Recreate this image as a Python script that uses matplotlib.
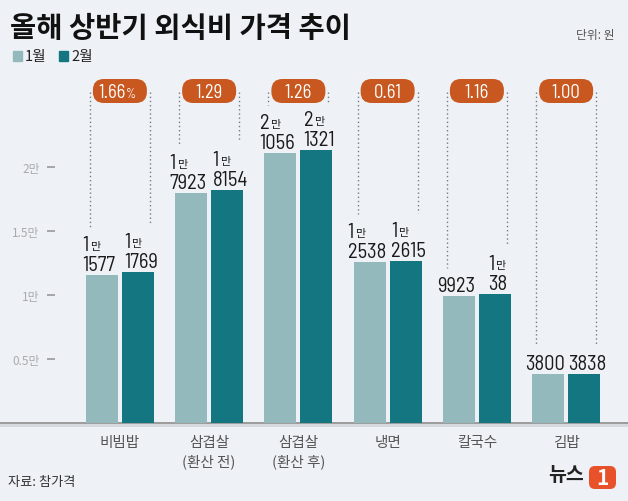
import numpy as np
import matplotlib.pyplot as plt
from matplotlib import font_manager as fm
from matplotlib.patches import FancyBboxPatch, Rectangle

plt.rcParams['font.family'] = ['Noto Sans CJK KR', 'DejaVu Sans']

categories = ['비빔밥', '삼겹살\n(환산 전)', '삼겹살\n(환산 후)', '냉면', '칼국수', '김밥']
jan = [11577, 17923, 21056, 12538, 9923, 3800]
feb = [11769, 18154, 21321, 12615, 10038, 3838]
change = ['1.66', '1.29', '1.26', '0.61', '1.16', '1.00']
yticks = [5000, 10000, 15000, 20000]
ytick_labels = ['0.5만', '1만', '1.5만', '2만']

W, H = 628, 502
BG = '#eef2f7'
LIGHT = '#93b9bc'
DARK = '#137680'
ORANGE = '#c8581f'

# narrow digits if some condensed family is around
have = {f.name for f in fm.fontManager.ttflist}
cond = next((n for n in ['Barlow Semi Condensed', 'Roboto Condensed', 'Asap Condensed',
                         'Barlow Condensed'] if n in have), None)
NUM = [cond, 'Noto Sans CJK KR'] if cond else ['Noto Sans CJK KR']
num_size = 14.8 if cond else 12.5

fig = plt.figure(figsize=(W / 100, H / 100), dpi=100, facecolor=BG)

# overlay in pixel coords (y from top) for decorations
deco = fig.add_axes([0, 0, 1, 1], zorder=0)
deco.set_xlim(0, W)
deco.set_ylim(H, 0)
deco.axis('off')

ax = fig.add_axes([55 / W, (H - 424) / H, (W - 55) / W, 320.6 / H], zorder=1)
ax.set_facecolor('none')
x = np.arange(len(categories))
bw = 0.358
off = 0.201
b1 = ax.bar(x - off, jan, bw, color=LIGHT)
b2 = ax.bar(x + off, feb, bw, color=DARK)
ax.set_xlim(-0.727, 5.693)
ax.set_ylim(0, 25000)
for s in ax.spines.values():
    s.set_visible(False)
ax.set_yticks(yticks, ytick_labels)
ax.tick_params(axis='y', length=6, width=1.2, color='#9a9a9a', labelcolor='#aaaaaa', labelsize=8.5, pad=5)
ax.set_xticks(x, categories)
ax.tick_params(axis='x', length=0, pad=9, labelcolor='#555555', labelsize=10.5)
for lab in ax.get_xticklabels():
    lab.set_linespacing(1.3)

# baseline across the whole width
deco.plot([0, W], [425.5, 425.5], color='#d5d9de', lw=2)
deco.plot([0, W], [423.8, 423.8], color='#9b9b9b', lw=1.4)

fig.canvas.draw()
renderer = fig.canvas.get_renderer()

def px_top(v):
    return H - ax.transData.transform((0, v))[1]

label_tops = {}
for k, (bars, vals) in enumerate(((b1, jan), (b2, feb))):
    shift = -3 if k == 0 else 3
    for i, (rect, v) in enumerate(zip(bars, vals)):
        cx = rect.get_x() + rect.get_width() / 2
        dx = ax.transData.transform((cx, v))[0]
        man, rest = divmod(v, 10000)
        t = ax.annotate(str(rest) if man else str(v), (cx, v), xytext=(shift, 5),
                        textcoords='offset pixels', ha='center', va='baseline',
                        fontsize=num_size, family=NUM, color='#1a1a1a')
        top = px_top(v) - 5 - 15
        if man:
            bb = t.get_window_extent(renderer)
            x0 = bb.x0 - dx
            t1 = ax.annotate(str(man), (cx, v), xytext=(x0, 25), textcoords='offset pixels',
                             ha='left', va='baseline', fontsize=num_size, family=NUM,
                             color='#1a1a1a')
            bb1 = t1.get_window_extent(renderer)
            ax.annotate('만', (cx, v), xytext=(bb1.x1 - dx + 1, 26), textcoords='offset pixels',
                        ha='left', va='baseline', fontsize=8, color='#1a1a1a')
            top -= 20
        label_tops[(i, k)] = top

# change pills with dotted guides
for i, c in enumerate(change):
    cx = ax.transData.transform((i, 0))[0]
    for k, sx in ((0, cx - 30), (1, cx + 30)):
        deco.plot([sx, sx], [93, label_tops[(i, k)] - 8], color='#7a7a7a', lw=1,
                  ls=(0, (1, 2)))
    deco.add_patch(FancyBboxPatch((cx - 27, 80), 54, 24,
                                  boxstyle='round,pad=0,rounding_size=11',
                                  fc=ORANGE, ec='none', zorder=3))
    if i == 0:
        deco.text(cx + 6, 92.5, c, ha='right', va='center', color='white',
                  fontsize=13.5, family=NUM, zorder=4)
        deco.text(cx + 6, 94, '%', ha='left', va='center', color='white',
                  fontsize=9, family=NUM, zorder=4)
    else:
        deco.text(cx, 92.5, c, ha='center', va='center', color='white',
                  fontsize=13.5, family=NUM, zorder=4)

# title, legend, unit
fig.text(10 / W, 1 - 29 / H, '올해 상반기 외식비 가격 추이', fontsize=20.5, fontweight='bold',
         color='#111111', va='center', ha='left')
deco.add_patch(Rectangle((13, 52), 9, 10, color=LIGHT))
deco.text(25, 57.5, '1월', fontsize=10.5, va='center', color='#222222')
deco.add_patch(Rectangle((59, 52), 9, 10, color=DARK))
deco.text(71, 57.5, '2월', fontsize=10.5, va='center', color='#222222')
deco.text(615, 36, '단위: 원', fontsize=8.5, ha='right', va='center', color='#555555')

# source and logo
deco.text(8, 483, '자료: 참가격', fontsize=9.5, ha='left', va='center', color='#333333')
deco.text(584, 476, '뉴스', fontsize=14, fontweight='bold', fontstyle='italic',
          ha='right', va='center', color='#222222')
deco.add_patch(FancyBboxPatch((589, 467), 27, 23, boxstyle='round,pad=0,rounding_size=6',
                              fc='#e8522a', ec='none'))
deco.text(602.5, 478.5, '1', fontsize=15, fontweight='bold', ha='center', va='center', color='white')

fig.savefig('out.png', dpi=100, facecolor=BG)
